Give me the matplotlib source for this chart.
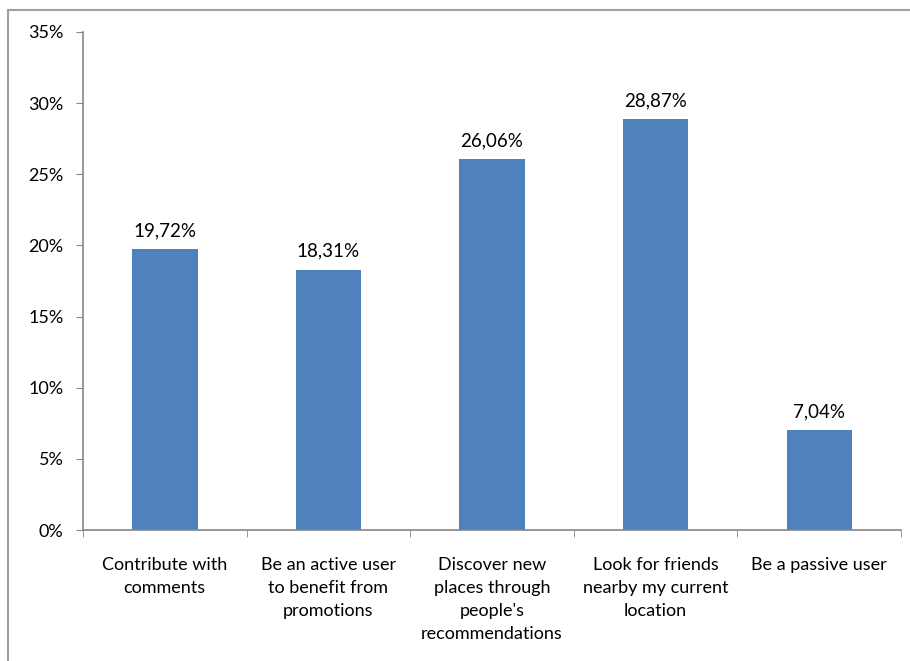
import matplotlib.pyplot as plt
from matplotlib.patches import Rectangle
from matplotlib.ticker import FixedLocator

categories = ["Contribute with\ncomments",
              "Be an active user\nto benefit from\npromotions",
              "Discover new\nplaces through\npeople's\nrecommendations",
              "Look for friends\nnearby my current\nlocation",
              "Be a passive user"]
values = [19.72, 18.31, 26.06, 28.87, 7.04]
yticks = [0, 5, 10, 15, 20, 25, 30, 35]

plt.rcParams['font.family'] = ['Lato', 'DejaVu Sans']

fig = plt.figure(figsize=(9.1, 6.61), dpi=100)
ax = fig.add_axes([0.0912, 0.198, 0.899, 0.7536])

x = range(len(values))
ax.bar(x, values, width=0.4, color='#4F81BD')
for xi, v in zip(x, values):
    ax.annotate(f"{v:.2f}%".replace('.', ','), (xi, v), xytext=(0, 7),
                textcoords='offset points', ha='center', va='bottom', fontsize=13.5)

ax.set_xlim(-0.5, len(values) - 0.5)
ax.set_ylim(0, 35)
ax.set_yticks(yticks)
ax.set_yticklabels([f"{t}%" for t in yticks], fontsize=13)
ax.set_xticks(list(x))
ax.set_xticklabels(categories, fontsize=13, linespacing=1.55)
ax.tick_params(axis='x', length=0, pad=19)
ax.xaxis.set_minor_locator(FixedLocator([i - 0.5 for i in range(len(values) + 1)]))
ax.tick_params(axis='x', which='minor', length=5, color='#868686', direction='out')
ax.tick_params(axis='y', length=5, color='#868686', pad=9)

for side in ['top', 'right']:
    ax.spines[side].set_visible(False)
for side in ['left', 'bottom']:
    ax.spines[side].set_color('#868686')
    ax.spines[side].set_linewidth(1.2)

# outer chart frame
fig.patches.append(Rectangle((8 / 910, -0.1), 1.1, 1 - 10 / 661 + 0.1,
                             transform=fig.transFigure, fill=False,
                             edgecolor='#A0A0A0', linewidth=1.5))

fig.savefig('out.png', dpi=100)
